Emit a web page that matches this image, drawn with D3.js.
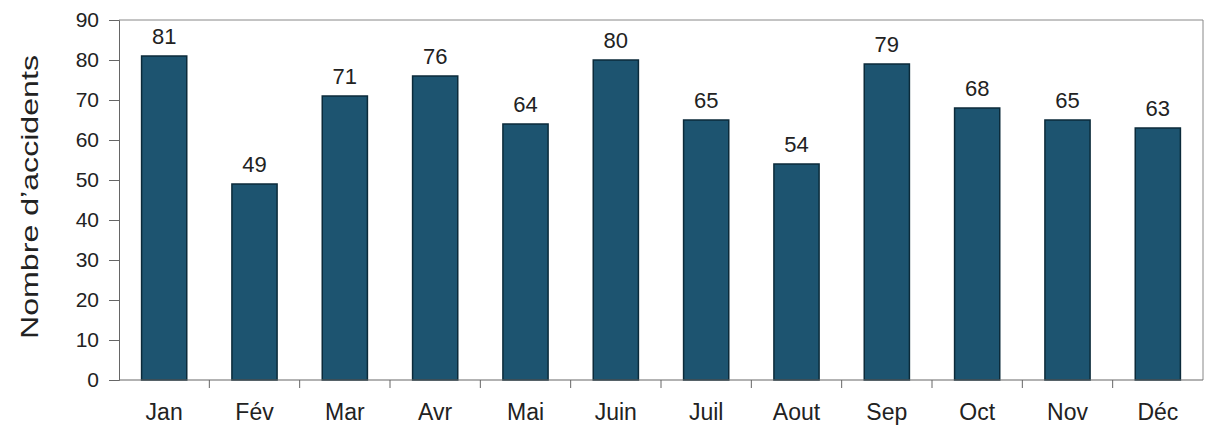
<html>
<head>
<script src="https://d3js.org/d3.v7.min.js"></script>
<style>
  body { margin: 0; background: #fff; }
  text { font-family: "Liberation Sans", Arial, sans-serif; fill: #222; }
</style>
</head>
<body>
<svg width="1205" height="427"></svg>
<script>
const months = ["Jan", "Fév", "Mar", "Avr", "Mai", "Juin", "Juil", "Aout", "Sep", "Oct", "Nov", "Déc"];
const accidents = [81, 49, 71, 76, 64, 80, 65, 54, 79, 68, 65, 63];
const yTicks = [0, 10, 20, 30, 40, 50, 60, 70, 80, 90];

const svg = d3.select("svg");
const mLeft = 119, mRight = 1203, mTop = 20, mBottom = 380;

const x = d3.scaleBand().domain(months).range([mLeft, mRight]).paddingInner(0.5).paddingOuter(0.25);
const y = d3.scaleLinear().domain([0, 90]).range([mBottom, mTop]);

// frame top / right
svg.append("path")
  .attr("d", "M" + mLeft + "," + y(90) + "H" + mRight + "V" + mBottom)
  .attr("fill", "none").attr("stroke", "#888").attr("stroke-width", 1);

// bars
svg.append("g").selectAll("rect").data(accidents).enter().append("rect")
  .attr("x", (d, i) => x(months[i]))
  .attr("y", d => y(d))
  .attr("width", x.bandwidth())
  .attr("height", d => y(0) - y(d))
  .attr("fill", "#1d5470")
  .attr("stroke", "#0b2a3a")
  .attr("stroke-width", 1.5);

// value labels
svg.append("g").selectAll("text").data(accidents).enter().append("text")
  .attr("x", (d, i) => x(months[i]) + x.bandwidth() / 2)
  .attr("y", d => y(d) - 12)
  .attr("text-anchor", "middle")
  .style("font-size", "22px")
  .text(d => d);

// y axis
const yAxis = svg.append("g").attr("transform", "translate(" + mLeft + ",0)")
  .call(d3.axisLeft(y).tickValues(yTicks).tickSize(10).tickPadding(10));
yAxis.select(".domain").attr("stroke", "#666");
yAxis.selectAll(".tick line").attr("stroke", "#666");
yAxis.selectAll("text").style("font-size", "21px").attr("fill", "#222");

// x axis: ticks at band boundaries
const step = x.step();
const bounds = months.slice(1).map(m => x(m) - (step - x.bandwidth()) / 2);
const xg = svg.append("g");
xg.append("line").attr("x1", mLeft).attr("x2", mRight).attr("y1", mBottom).attr("y2", mBottom).attr("stroke", "#666");
xg.selectAll("line.t").data(bounds).enter().append("line").attr("class", "t")
  .attr("x1", d => d).attr("x2", d => d).attr("y1", mBottom).attr("y2", mBottom + 8)
  .attr("stroke", "#666");
xg.selectAll("text").data(months).enter().append("text")
  .attr("x", d => x(d) + x.bandwidth() / 2)
  .attr("y", 420)
  .attr("text-anchor", "middle")
  .style("font-size", "23px")
  .text(d => d);

// y title
svg.append("text")
  .attr("transform", "translate(38,197) rotate(-90)")
  .attr("text-anchor", "middle")
  .attr("textLength", 284)
  .attr("lengthAdjust", "spacingAndGlyphs")
  .style("font-size", "24px")
  .attr("fill", "#333")
  .text("Nombre d’accidents");
</script>
</body>
</html>
